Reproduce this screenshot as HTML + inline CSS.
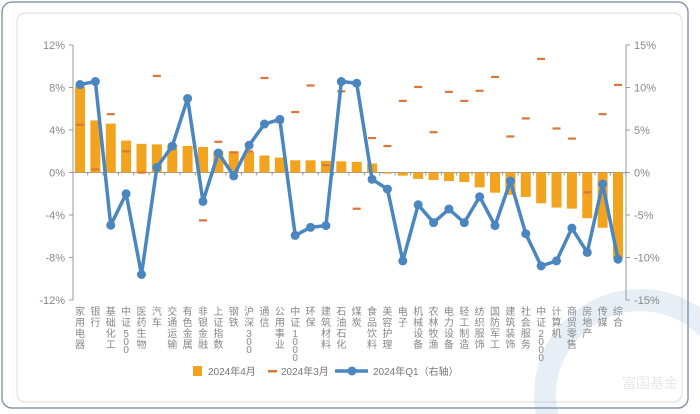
<!DOCTYPE html>
<html><head><meta charset="utf-8"><style>
body{margin:0;background:#fff;width:700px;height:414px;overflow:hidden;font-family:"Liberation Sans","Noto Sans CJK SC",sans-serif}
svg{display:block}
</style></head><body>
<svg width="700" height="414" viewBox="0 0 700 414">
<rect x="2" y="2" width="686" height="406" rx="10" fill="#fff" stroke="#8a9aab" stroke-width="1.5"/>
<rect x="17" y="13" width="665" height="389" rx="8" fill="#fff" stroke="#dcdcdc" stroke-width="1"/>
<g opacity="0.14">
<circle cx="640" cy="395" r="95" fill="none" stroke="#5b8fc7" stroke-width="22"/>
<text x="650" y="388" font-size="14" fill="#666" text-anchor="middle">富国基金</text>
</g>
<g id="axes"></g>
<g id="marks"></g>
<g id="legend">
<rect x="193" y="366" width="9" height="10" fill="#f2a41f"/>
<text x="208" y="375" font-size="10" fill="#777">2024年4月</text>
<rect x="268" y="370" width="9" height="2.5" fill="#d9773a"/>
<text x="281" y="375" font-size="10" fill="#777">2024年3月</text>
<line x1="335" y1="371" x2="368" y2="371" stroke="#4a86c0" stroke-width="3.5"/>
<circle cx="352" cy="371" r="4.5" fill="#4a86c0"/>
<text x="373" y="375" font-size="10" fill="#777">2024年Q1（右轴）</text>
</g>
</svg>
<script>
const categories=["家用电器","银行","基础化工","中证500","医药生物","汽车","交通运输","有色金属","非银金融","上证指数","钢铁","沪深300","通信","公用事业","中证1000","环保","建筑材料","石油石化","煤炭","食品饮料","美容护理","电子","机械设备","农林牧渔","电力设备","轻工制造","纺织服饰","国防军工","建筑装饰","社会服务","中证2000","计算机","商贸零售","房地产","传媒","综合"];
const apr=[8.1,4.9,4.6,3.0,2.7,2.65,2.6,2.5,2.4,2.0,2.0,1.95,1.6,1.4,1.15,1.15,1.1,1.05,1.0,0.85,-0.1,-0.3,-0.6,-0.7,-0.8,-0.9,-1.4,-1.9,-2.1,-2.3,-2.9,-3.3,-3.4,-4.3,-5.2,-8.1];
const mar=[4.5,0.3,5.5,2.0,0.0,9.1,2.65,6.9,-4.5,2.9,1.9,2.0,8.9,4.75,5.7,8.2,0.7,7.65,-3.4,3.25,2.5,6.75,8.06,3.8,7.6,6.75,7.7,9.0,3.4,5.1,10.7,4.15,3.2,-1.85,5.5,8.25];
const q1=[10.35,10.7,-6.2,-2.5,-12.0,0.6,3.1,8.7,-3.4,2.3,-0.4,3.2,5.7,6.25,-7.4,-6.45,-6.25,10.7,10.5,-0.8,-1.95,-10.4,-3.8,-5.9,-4.3,-5.9,-2.85,-6.25,-1.0,-7.2,-11.0,-10.4,-6.55,-9.4,-1.35,-10.2];
const leftTicks=[12,8,4,0,-4,-8,-12];
const rightTicks=[15,10,5,0,-5,-10,-15];
const NS="http://www.w3.org/2000/svg";
const plotTop=45,plotBot=300,x0=80,x1=618,axL=73,axR=626;
const yL=v=>plotTop+(12-v)/24*(plotBot-plotTop);
const yR=v=>plotTop+(15-v)/30*(plotBot-plotTop);
const xC=i=>x0+i*(x1-x0)/(categories.length-1);
function mk(tag,attrs,parent){const el=document.createElementNS(NS,tag);for(const k in attrs)el.setAttribute(k,attrs[k]);parent.appendChild(el);return el;}
const axes=document.getElementById('axes'),marks=document.getElementById('marks');
let e;
e=mk('line',{x1:axL,y1:plotTop,x2:axL,y2:plotBot,stroke:'#999','stroke-width':1},axes);


e=mk('line',{x1:axR,y1:plotTop,x2:axR,y2:plotBot,stroke:'#999','stroke-width':1},axes);


leftTicks.forEach(v=>{
 mk('line',{x1:axL-4,y1:yL(v),x2:axL,y2:yL(v),stroke:'#999'},axes);
 e=mk('text',{x:axL-8,y:yL(v)+4,'font-size':11,fill:'#888','text-anchor':'end'},axes);
 e.textContent=v+'%';
 
 
});
rightTicks.forEach(v=>{
 mk('line',{x1:axR,y1:yR(v),x2:axR+4,y2:yR(v),stroke:'#999'},axes);
 e=mk('text',{x:axR+8,y:yR(v)+4,'font-size':11,fill:'#888'},axes);
 e.textContent=v+'%';
 
 
});
e=mk('line',{x1:axL,y1:yL(0),x2:axR,y2:yL(0),stroke:'#999'},axes);


categories.forEach((c,i)=>{
 const x=xC(i);
 mk('line',{x1:x+7.7,y1:yL(0),x2:x+7.7,y2:yL(0)+3,stroke:'#999'},axes);
 e=mk('text',{x:x,y:315,'font-size':10,fill:'#888','text-anchor':'middle'},axes);
 
 
 let prevDigit=false;
 Array.from(c).forEach((ch,k)=>{
  const d=/[0-9]/.test(ch);
  const t=mk('tspan',{x:x,dy:k==0?0:((d&&prevDigit)?8:11)},e);
  t.textContent=ch;
  prevDigit=d;
 });
});
apr.forEach((v,i)=>{
 const y0=yL(0),y=yL(v);
 e=mk('rect',{x:xC(i)-5,y:Math.min(y,y0),width:10,height:Math.abs(y-y0),fill:'#f2a41f'},marks);
 
 
});
mar.forEach((v,i)=>{
 e=mk('rect',{x:xC(i)-4,y:yL(v)-1,width:8,height:2.2,fill:'#d9773a'},marks);
 
 
});
e=mk('polyline',{points:q1.map((v,i)=>xC(i)+','+yR(v)).join(' '),fill:'none',stroke:'#4a86c0','stroke-width':3.5,'stroke-linejoin':'round'},marks);


q1.forEach((v,i)=>{
 e=mk('circle',{cx:xC(i),cy:yR(v),r:4.5,fill:'#4a86c0'},marks);
 
 
});
</script>
</body></html>
